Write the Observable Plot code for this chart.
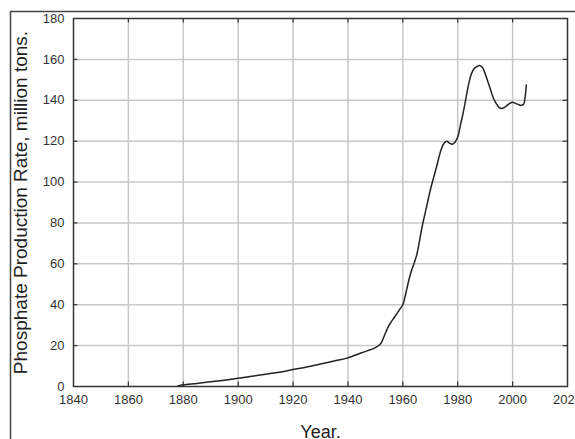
<!DOCTYPE html>
<html>
<head>
<meta charset="utf-8">
<script src="https://cdn.jsdelivr.net/npm/d3@7"></script>
<script src="https://cdn.jsdelivr.net/npm/@observablehq/plot@0.6"></script>
<style>
  html, body { margin: 0; padding: 0; background: #fff; overflow: hidden; }
  #chart svg { overflow: hidden; }
</style>
</head>
<body>
<div id="chart"></div>
<script>
const years = [1878, 1880, 1885, 1890, 1895, 1900, 1905, 1910, 1915, 1920, 1925, 1930, 1935, 1940, 1945, 1950, 1952, 1953, 1955, 1957, 1959, 1960, 1961, 1962, 1963, 1965, 1967, 1969, 1970, 1972, 1974, 1975, 1976, 1977, 1978, 1979, 1980, 1981, 1982, 1983, 1984, 1985, 1986, 1987, 1988, 1989, 1990, 1991, 1992, 1993, 1994, 1995, 1996, 1997, 1998, 1999, 2000, 2001, 2002, 2003, 2004, 2004.5, 2005];
const production = [0.3, 0.8, 1.5, 2.3, 3.1, 4, 5, 6, 7, 8.3, 9.5, 11, 12.5, 14, 16.5, 19, 21, 24, 30, 34, 38, 40, 45, 51, 56, 64, 78, 90, 96, 106, 116, 119, 120, 119, 118.5, 119.5, 122, 128, 134, 141, 148, 153, 155.5, 156.5, 157, 156, 153, 149, 145, 141, 138.5, 136.5, 136, 136.5, 137.5, 138.5, 139, 138.5, 138, 137.5, 138, 141, 147.5];
const xTicks = [1840, 1860, 1880, 1900, 1920, 1940, 1960, 1980, 2000, 2020];
const yTicks = [0, 20, 40, 60, 80, 100, 120, 140, 160, 180];
const xLabel = "Year.";
const yLabel = "Phosphate Production Rate, million tons.";

const data = years.map((y, i) => ({year: y, value: production[i]}));
const xInner = xTicks.slice(1, -1);
const yInner = yTicks.slice(1, -1);

const plot = Plot.plot({
  width: 575,
  height: 439,
  marginLeft: 73,
  marginRight: 8,
  marginTop: 18,
  marginBottom: 53,
  style: {fontFamily: "'Liberation Sans', Arial, sans-serif", fontSize: "13px", color: "#333", background: "#fff"},
  x: {domain: [1840, 2020]},
  y: {domain: [0, 180]},
  marks: [
    Plot.ruleX(xInner, {stroke: "#c8c8c8", strokeWidth: 1.5}),
    Plot.ruleY(yInner, {stroke: "#c8c8c8", strokeWidth: 1.5}),
    // inward tick marks on all sides
    Plot.ruleX(xInner, {y1: 0, y2: 2.2, stroke: "#333", strokeWidth: 1.2}),
    Plot.ruleX(xInner, {y1: 177.8, y2: 180, stroke: "#333", strokeWidth: 1.2}),
    Plot.ruleY(yInner, {x1: 1840, x2: 1841.6, stroke: "#333", strokeWidth: 1.2}),
    Plot.ruleY(yInner, {x1: 2018.4, x2: 2020, stroke: "#333", strokeWidth: 1.2}),
    Plot.axisX(xTicks, {tickSize: 0, tickPadding: 8, tickFormat: d => String(d), label: null, fill: "#333", fontSize: 13}),
    Plot.axisY(yTicks, {tickSize: 0, tickPadding: 9, label: null, fill: "#333", fontSize: 13}),
    Plot.line(data, {x: "year", y: "value", curve: "catmull-rom", stroke: "#222", strokeWidth: 1.5}),
    Plot.frame({stroke: "#333", strokeWidth: 1.5}),
    Plot.text([xLabel], {frameAnchor: "bottom", textAnchor: "middle", lineAnchor: "bottom", dy: 51, fontSize: 18, fill: "#222"}),
    Plot.text([yLabel], {frameAnchor: "left", textAnchor: "middle", lineAnchor: "middle", dx: -53, rotate: -90, fontSize: 19, fill: "#222"})
  ]
});

d3.select(plot).append("rect")
  .attr("x", 10.5).attr("y", 11.5)
  .attr("width", 700).attr("height", 600)
  .attr("fill", "none").attr("stroke", "#444").attr("stroke-width", 1.5);

document.getElementById("chart").appendChild(plot);
</script>
</body>
</html>
